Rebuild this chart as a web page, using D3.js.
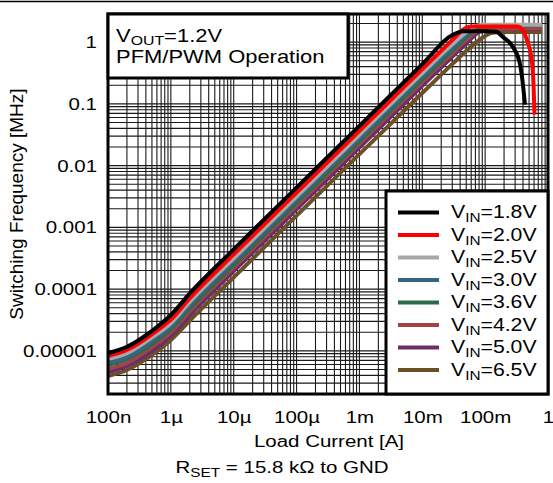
<!DOCTYPE html>
<html>
<head>
<meta charset="utf-8">
<script src="https://cdn.jsdelivr.net/npm/d3@7"></script>
<style>
  body { margin: 0; background: #fff; }
  svg { display: block; }
  text { font-family: "Liberation Sans", Arial, sans-serif; fill: #000; }
</style>
</head>
<body>
<div id="chart"></div>
<script>
// Switching frequency vs load current, one curve per input voltage

const VIS = {
  width: 553,
  height: 483,
  margin: { top: 14, right: 5, bottom: 89, left: 108 },
  stretch: 1.28, // text in the original is wide
};

const xTicks = [1e-7, 1e-6, 1e-5, 1e-4, 1e-3, 1e-2, 1e-1, 1];
const xTickLabels = ['100n', '1µ', '10µ', '100µ', '1m', '10m', '100m', '1'];
const yTicks = [1e-5, 1e-4, 1e-3, 1e-2, 1e-1, 1];
const yTickLabels = ['0.00001', '0.0001', '0.001', '0.01', '0.1', '1'];

const vinLabels = ['1.8V', '2.0V', '2.5V', '3.0V', '3.6V', '4.2V', '5.0V', '6.5V'];
const vinColors = ['#000000', '#ff0000', '#a8a8a8', '#38657f', '#2d6b4f', '#a04444', '#6b2c6b', '#6b4f27'];

// [load current A, frequency MHz]
const vin18 = [[1e-7, 9.2e-6], [2e-7, 1.16e-5], [5e-7, 2.1e-5], [1e-6, 3.8e-5], [2e-6, 8.5e-5], [1e-5, 4.4e-4],
  [1e-4, 4.4e-3], [1e-3, 4.4e-2], [1e-2, 0.44], [0.03, 1.3], [0.045, 1.5], [0.1, 1.5], [0.15, 1.47],
  [0.19, 1.22], [0.275, 0.84], [0.355, 0.46], [0.39, 0.25], [0.43, 0.097]];
const vin20 = [[1e-7, 8.2e-6], [2e-7, 1.03e-5], [5e-7, 1.85e-5], [1e-6, 3.2e-5], [2e-6, 7.1e-5], [1e-5, 3.65e-4],
  [1e-4, 3.65e-3], [1e-3, 3.65e-2], [1e-2, 0.365], [0.03, 1.08], [0.045, 1.6], [0.06, 1.78], [0.32, 1.78],
  [0.4, 1.55], [0.46, 1.09], [0.55, 0.52], [0.59, 0.19], [0.61, 0.067]];
const vin25 = [[1e-7, 7.4e-6], [2e-7, 9.2e-6], [5e-7, 1.65e-5], [1e-6, 2.8e-5], [2e-6, 6.2e-5], [1e-5, 3.15e-4],
  [1e-4, 3.15e-3], [1e-3, 3.15e-2], [1e-2, 0.315], [0.03, 0.92], [0.05, 1.45], [0.07, 1.8], [0.09, 1.9], [0.8, 1.9]];
const vin30 = [[1e-7, 6.4e-6], [2e-7, 8.0e-6], [5e-7, 1.45e-5], [1e-6, 2.5e-5], [2e-6, 5.5e-5], [1e-5, 2.8e-4],
  [1e-4, 2.8e-3], [1e-3, 2.8e-2], [1e-2, 0.28], [0.03, 0.82], [0.05, 1.3], [0.07, 1.7], [0.09, 1.88], [0.8, 1.9]];
const vin36 = [[1e-7, 5.9e-6], [2e-7, 7.4e-6], [5e-7, 1.3e-5], [1e-6, 2.25e-5], [2e-6, 4.9e-5], [1e-5, 2.5e-4],
  [1e-4, 2.5e-3], [1e-3, 2.5e-2], [1e-2, 0.25], [0.03, 0.73], [0.05, 1.2], [0.07, 1.6], [0.1, 1.85], [0.8, 1.87]];
const vin42 = [[1e-7, 5.1e-6], [2e-7, 6.4e-6], [5e-7, 1.15e-5], [1e-6, 2.0e-5], [2e-6, 4.4e-5], [1e-5, 2.25e-4],
  [1e-4, 2.25e-3], [1e-3, 2.25e-2], [1e-2, 0.225], [0.03, 0.66], [0.05, 1.08], [0.07, 1.45], [0.1, 1.65], [0.8, 1.68]];
const vin50 = [[1e-7, 4.5e-6], [2e-7, 5.7e-6], [5e-7, 1.0e-5], [1e-6, 1.75e-5], [2e-6, 3.8e-5], [1e-5, 1.95e-4],
  [1e-4, 1.95e-3], [1e-3, 1.95e-2], [1e-2, 0.195], [0.03, 0.58], [0.05, 0.95], [0.08, 1.45], [0.11, 1.62], [0.8, 1.65]];
const vin65 = [[1e-7, 3.9e-6], [2e-7, 4.9e-6], [5e-7, 8.6e-6], [1e-6, 1.5e-5], [2e-6, 3.1e-5], [1e-5, 1.55e-4],
  [1e-4, 1.55e-3], [1e-3, 1.53e-2], [1e-2, 0.15], [0.03, 0.44], [0.06, 0.85], [0.1, 1.25], [0.13, 1.42], [0.2, 1.45], [0.8, 1.46]];

const seriesData = [vin18, vin20, vin25, vin30, vin36, vin42, vin50, vin65];

function init() {
  const { width, height, margin, stretch } = VIS;
  const x0 = margin.left, x1 = width - margin.right;
  const y0 = margin.top, y1 = height - margin.bottom;

  const svg = d3.select('#chart')
    .append('svg')
    .attr('width', width)
    .attr('height', height);

  const x = d3.scaleLog().domain([1e-7, 1]).range([x0, x1]);
  const y = d3.scaleLog().domain([2e-6, 2.85]).range([y1, y0]);

  // thin rule across the very top
  svg.append('line')
    .attr('x1', 0).attr('x2', width)
    .attr('y1', 1.5).attr('y2', 1.5)
    .attr('stroke', '#000').attr('stroke-width', 1.5);

  // log grid, every 1..9 step
  const grid = svg.append('g').attr('stroke', '#1a1a1a').attr('stroke-width', 1.1);
  const xGrid = [];
  for (let e = -7; e < 0; e++) for (let m = 1; m <= 9; m++) xGrid.push(m * Math.pow(10, e));
  const yGrid = [];
  for (let e = -6; e <= 0; e++) for (let m = 1; m <= 9; m++) {
    const v = m * Math.pow(10, e);
    if (v >= 2e-6 && v <= 2.85) yGrid.push(v);
  }
  grid.selectAll('line.vx').data(xGrid).join('line')
    .attr('x1', d => x(d)).attr('x2', d => x(d))
    .attr('y1', y0).attr('y2', y1);
  grid.selectAll('line.hy').data(yGrid).join('line')
    .attr('x1', x0).attr('x2', x1)
    .attr('y1', d => y(d)).attr('y2', d => y(d));

  // curves, last series at the bottom
  const line = d3.line()
    .x(d => x(d[0]))
    .y(d => y(d[1]))
    .curve(d3.curveMonotoneX);

  const order = d3.range(seriesData.length).reverse();
  svg.append('g')
    .selectAll('path')
    .data(order)
    .join('path')
    .attr('d', i => line(seriesData[i]))
    .attr('fill', 'none')
    .attr('stroke', i => vinColors[i])
    .attr('stroke-width', 4)
    .attr('stroke-linejoin', 'round');

  // plot frame
  svg.append('rect')
    .attr('x', x0).attr('y', y0)
    .attr('width', x1 - x0).attr('height', y1 - y0)
    .attr('fill', 'none').attr('stroke', '#000').attr('stroke-width', 3);

  // axes
  const xAxis = svg.append('g')
    .attr('transform', `translate(0,${y1})`)
    .call(d3.axisBottom(x).tickValues(xTicks).tickFormat((d, i) => xTickLabels[i]).tickSize(0));
  xAxis.select('.domain').remove();
  xAxis.selectAll('text')
    .attr('y', 29).attr('dy', 0)
    .attr('font-size', 16)
    .attr('font-family', '"Liberation Sans", Arial, sans-serif')
    .attr('transform', `scale(${stretch},1)`);

  const yAxis = svg.append('g')
    .attr('transform', `translate(${x0},0)`)
    .call(d3.axisLeft(y).tickValues(yTicks).tickFormat((d, i) => yTickLabels[i]).tickSize(0));
  yAxis.select('.domain').remove();
  yAxis.selectAll('text')
    .attr('x', -11 / stretch).attr('dy', '0.35em')
    .attr('font-size', 16)
    .attr('font-family', '"Liberation Sans", Arial, sans-serif')
    .attr('transform', `scale(${stretch},1)`);

  // axis titles
  svg.append('text')
    .attr('transform', `translate(329,447) scale(${stretch},1)`)
    .attr('text-anchor', 'middle')
    .attr('font-size', 16)
    .text('Load Current [A]');

  const rset = svg.append('text')
    .attr('transform', `translate(282,473) scale(${stretch},1)`)
    .attr('text-anchor', 'middle')
    .attr('font-size', 16);
  rset.append('tspan').text('R');
  rset.append('tspan').attr('font-size', 12).attr('dy', 4).text('SET');
  rset.append('tspan').attr('dy', -4).text(' = 15.8 kΩ to GND');

  svg.append('text')
    .attr('transform', `translate(23,${(y0 + y1) / 2}) rotate(-90)`)
    .attr('text-anchor', 'middle')
    .attr('font-size', 19)
    .text('Switching Frequency [MHz]');

  // condition box, top left
  svg.append('rect')
    .attr('x', x0).attr('y', y0)
    .attr('width', 240).attr('height', 64)
    .attr('fill', '#fff').attr('stroke', '#000').attr('stroke-width', 3);
  const vout = svg.append('text')
    .attr('transform', `translate(116,42) scale(1.22,1)`)
    .attr('font-size', 18);
  vout.append('tspan').text('V');
  vout.append('tspan').attr('font-size', 13).attr('dy', 3).text('OUT');
  vout.append('tspan').attr('dy', -3).text('=1.2V');
  svg.append('text')
    .attr('transform', `translate(116,63) scale(1.22,1)`)
    .attr('font-size', 18)
    .text('PFM/PWM Operation');

  // legend
  svg.append('rect')
    .attr('x', 386).attr('y', 191)
    .attr('width', x1 - 386).attr('height', y1 - 191)
    .attr('fill', '#fff').attr('stroke', '#000').attr('stroke-width', 3);
  const rows = svg.append('g')
    .selectAll('g')
    .data(vinLabels)
    .join('g')
    .attr('transform', (d, i) => `translate(0,${218 + i * 22.5})`);
  rows.append('line')
    .attr('x1', 398).attr('x2', 439)
    .attr('y1', -5.5).attr('y2', -5.5)
    .attr('stroke', (d, i) => vinColors[i])
    .attr('stroke-width', 4);
  const lt = rows.append('text')
    .attr('transform', 'translate(451,0) scale(1.18,1)')
    .attr('font-size', 18);
  lt.append('tspan').text('V');
  lt.append('tspan').attr('font-size', 13).attr('dy', 4).text('IN');
  lt.append('tspan').attr('dy', -4).text(d => '=' + d);
}

init();
</script>
</body>
</html>
